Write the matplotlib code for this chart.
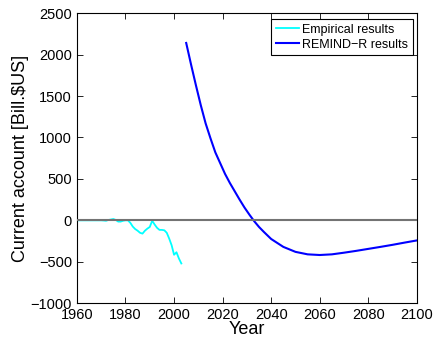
import matplotlib.pyplot as plt

plt.rcParams['font.family'] = ['Liberation Sans', 'DejaVu Sans']

# observed current account, 1960-2003
emp_years = list(range(1960, 2004))
emp_values = [0, 0, 0, 0, 0, 0, 0, 0, 0, 0,
              0, -2, -5, 5, 10, 16, 5, -15, -15, -5,
              0, 0, -30, -75, -105, -125, -150, -160, -125, -100,
              -80, -5, -50, -90, -115, -115, -120, -150, -220, -300,
              -415, -385, -460, -520]

# model path
model_years = [2005, 2007, 2009, 2011, 2013, 2015, 2017, 2019, 2021, 2023,
               2025, 2027, 2029, 2031, 2033, 2035, 2037, 2040, 2045, 2050,
               2055, 2060, 2065, 2070, 2075, 2080, 2085, 2090, 2095, 2100]
model_values = [2140, 1880, 1630, 1390, 1170, 990, 820, 690, 560, 450,
                350, 250, 155, 70, -10, -80, -140, -225, -320, -380,
                -410, -418, -410, -390, -368, -344, -320, -295, -268, -242]

fig = plt.figure(figsize=(4.37, 3.45), dpi=100)
ax = fig.add_axes([0.176, 0.121, 0.778, 0.841])

ax.plot(emp_years, emp_values, color=(0, 1, 1), lw=1.3, label='Empirical results')
ax.plot(model_years, model_values, color=(0, 0, 1), lw=1.5, label='REMIND\u2212R results')
ax.axhline(0, color='0.45', lw=1.5, zorder=3)

ax.set_xlim(1960, 2100)
ax.set_ylim(-1000, 2500)
ax.set_xticks(range(1960, 2101, 20))
ax.set_yticks(range(-1000, 2501, 500))
ax.tick_params(direction='in', top=True, right=True, labelsize=10.5, length=4, width=0.6)
for s in ax.spines.values():
    s.set_linewidth(0.8)

ax.set_xlabel('Year', fontsize=13, labelpad=-1)
ax.set_ylabel('Current account [Bill.$US]', fontsize=13, labelpad=1)

leg = ax.legend(loc='upper right', bbox_to_anchor=(0.988, 0.979), fontsize=9,
                fancybox=False, edgecolor='black', framealpha=1, borderaxespad=0,
                handlelength=1.85, handletextpad=0.3, borderpad=0.35,
                labelspacing=0.25)
leg.get_frame().set_linewidth(0.8)

plt.savefig('out.png', dpi=100)
